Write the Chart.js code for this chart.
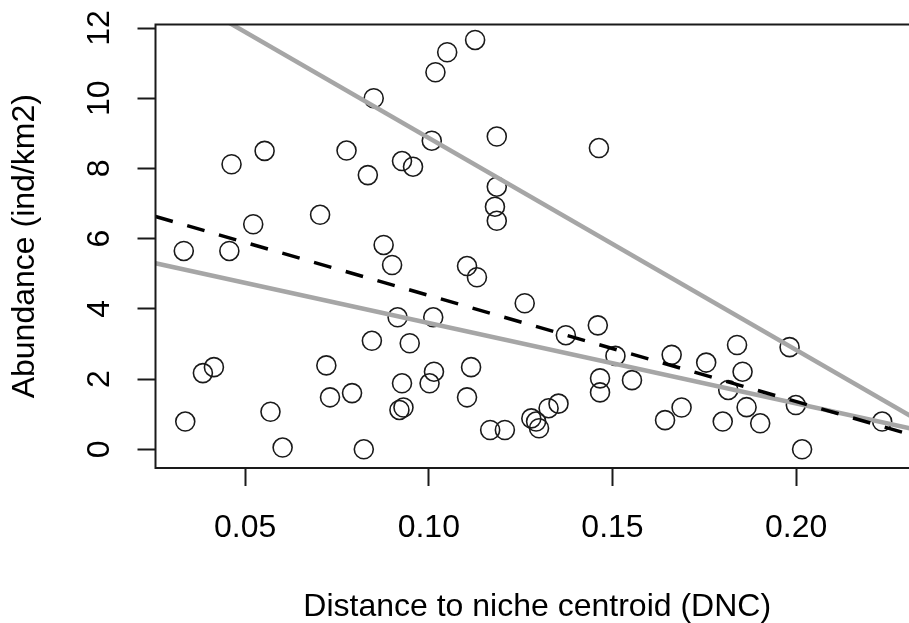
<!DOCTYPE html>
<html><head><meta charset="utf-8">
<script src="https://cdn.jsdelivr.net/npm/chart.js@4/dist/chart.umd.min.js"></script>
<style>html,body{margin:0;padding:0;overflow:hidden;background:#fff;width:909px;height:623px}</style>
</head><body>
<canvas id="c" width="930" height="623" style="display:block;width:930px;height:623px"></canvas>
<script>
// Observed points: distance to niche centroid (DNC) vs abundance (ind/km2)
const dncValues = [
  0.0333,0.0337,0.0385,0.0415,0.0457,0.0463,0.0522,0.0553,0.0569,0.0602,
  0.0704,0.0721,0.0731,0.0776,0.0791,0.0823,0.0834,0.0845,0.0850,0.0877,
  0.0900,0.0915,0.0920,0.0927,0.0927,0.0931,0.0948,0.0957,0.1002,0.1008,
  0.1012,0.1014,0.1018,0.1050,0.1104,0.1104,0.1115,0.1126,0.1131,0.1167,
  0.1180,0.1185,0.1185,0.1185,0.1207,0.1261,0.1279,0.1292,0.1300,0.1326,
  0.1353,0.1373,0.1460,0.1463,0.1466,0.1466,0.1508,0.1553,0.1643,0.1661,
  0.1688,0.1755,0.1800,0.1815,0.1839,0.1854,0.1865,0.1902,0.1982,0.1999,
  0.2016,0.2234
];
const abundanceValues = [
  5.65,0.79,2.17,2.34,5.65,8.12,6.41,8.50,1.07,0.05,
  6.68,2.39,1.48,8.51,1.60,0.00,7.81,3.09,10.00,5.82,
  5.25,3.76,1.12,1.88,8.21,1.19,3.02,8.05,1.88,8.79,
  3.76,2.21,10.74,11.31,5.22,1.48,2.34,11.66,4.90,0.55,
  6.91,8.91,7.48,6.51,0.55,4.16,0.88,0.79,0.60,1.17,
  1.30,3.25,3.53,8.58,2.02,1.62,2.66,1.97,0.83,2.69,
  1.19,2.47,0.79,1.69,2.97,2.21,1.20,0.74,2.91,1.26,
  0.00,0.79
];
// Fitted lines, values at the plot's x limits
const lineX = [0.0256, 0.2334];
const meanFit = [6.63, 0.35];
const upperFit = [13.36, 0.81];
const lowerFit = [5.30, 0.54];
// Axes
const xLimits = [0.0256, 0.2334];
const yLimits = [-0.533, 12.1];
const xTickValues = [0.05, 0.10, 0.15, 0.20];
const xTickLabels = ['0.05', '0.10', '0.15', '0.20'];
const yTickValues = [0, 2, 4, 6, 8, 10, 12];
const yTickLabels = ['0', '2', '4', '6', '8', '10', '12'];
const xTitle = 'Distance to niche centroid (DNC)';
const yTitle = 'Abundance (ind/km2)';

const pts = dncValues.map((x, i) => ({x: x, y: abundanceValues[i]}));
const toXY = arr => lineX.map((x, i) => ({x: x, y: arr[i]}));

const FONT = "'Liberation Sans', Arial, sans-serif";
const INK = '#1a1a1a';

const boxPlugin = {
  id: 'box',
  afterDraw(chart) {
    const a = chart.chartArea, ctx = chart.ctx;
    ctx.save();
    ctx.strokeStyle = INK;
    ctx.lineWidth = 2;
    ctx.strokeRect(a.left, a.top, a.right - a.left, a.bottom - a.top);
    ctx.restore();
  }
};

new Chart(document.getElementById('c'), {
  type: 'scatter',
  data: {
    datasets: [
      {type: 'line', data: toXY(meanFit), borderColor: '#000', borderWidth: 3.5,
       borderDash: [18, 15], pointRadius: 0, fill: false, tension: 0},
      {type: 'line', data: toXY(upperFit), borderColor: '#a6a6a6', borderWidth: 4.5,
       pointRadius: 0, fill: false, tension: 0},
      {type: 'line', data: toXY(lowerFit), borderColor: '#a6a6a6', borderWidth: 4.5,
       pointRadius: 0, fill: false, tension: 0},
      {data: pts, pointStyle: 'circle', pointRadius: 9.5, pointBorderWidth: 1.6,
       pointBorderColor: INK, pointBackgroundColor: 'rgba(0,0,0,0)', showLine: false}
    ]
  },
  options: {
    responsive: false,
    devicePixelRatio: 1,
    animation: false,
    events: [],
    layout: {padding: {top: 24.5, right: 3.5, bottom: 0, left: 0}},
    plugins: {legend: {display: false}, tooltip: {enabled: false}},
    scales: {
      x: {
        type: 'linear', position: 'bottom', min: xLimits[0], max: xLimits[1],
        afterBuildTicks: s => { s.ticks = xTickValues.map(v => ({value: v})); },
        afterFit: s => { s.height = 155; s.paddingLeft = 0; s.paddingRight = 0; },
        grid: {display: true, drawOnChartArea: false, drawTicks: true, tickLength: 18,
               tickWidth: 2, tickColor: INK},
        border: {display: false},
        ticks: {padding: 23, color: '#000', maxRotation: 0, minRotation: 0,
                font: {family: FONT, size: 32, lineHeight: 1.2},
                callback: (v, i) => xTickLabels[i]},
        title: {display: true, text: xTitle, color: '#000', padding: {top: 0, bottom: 0},
                font: {family: FONT, size: 32, lineHeight: 1}}
      },
      y: {
        type: 'linear', position: 'left', min: yLimits[0], max: yLimits[1],
        afterBuildTicks: s => { s.ticks = yTickValues.map(v => ({value: v})); },
        afterFit: s => { s.width = 155.5; s.paddingTop = 0; s.paddingBottom = 0; },
        grid: {display: true, drawOnChartArea: false, drawTicks: true, tickLength: 18,
               tickWidth: 2, tickColor: INK},
        border: {display: false},
        ticks: {padding: 20, color: '#000', minRotation: 90, maxRotation: 90, crossAlign: 'center',
                font: {family: FONT, size: 32, lineHeight: 1.2},
                callback: (v, i) => yTickLabels[i]},
        title: {display: true, text: yTitle, color: '#000', padding: {top: 9, bottom: 0},
                font: {family: FONT, size: 32, lineHeight: 1}}
      }
    }
  },
  plugins: [boxPlugin]
});
</script>
</body></html>
